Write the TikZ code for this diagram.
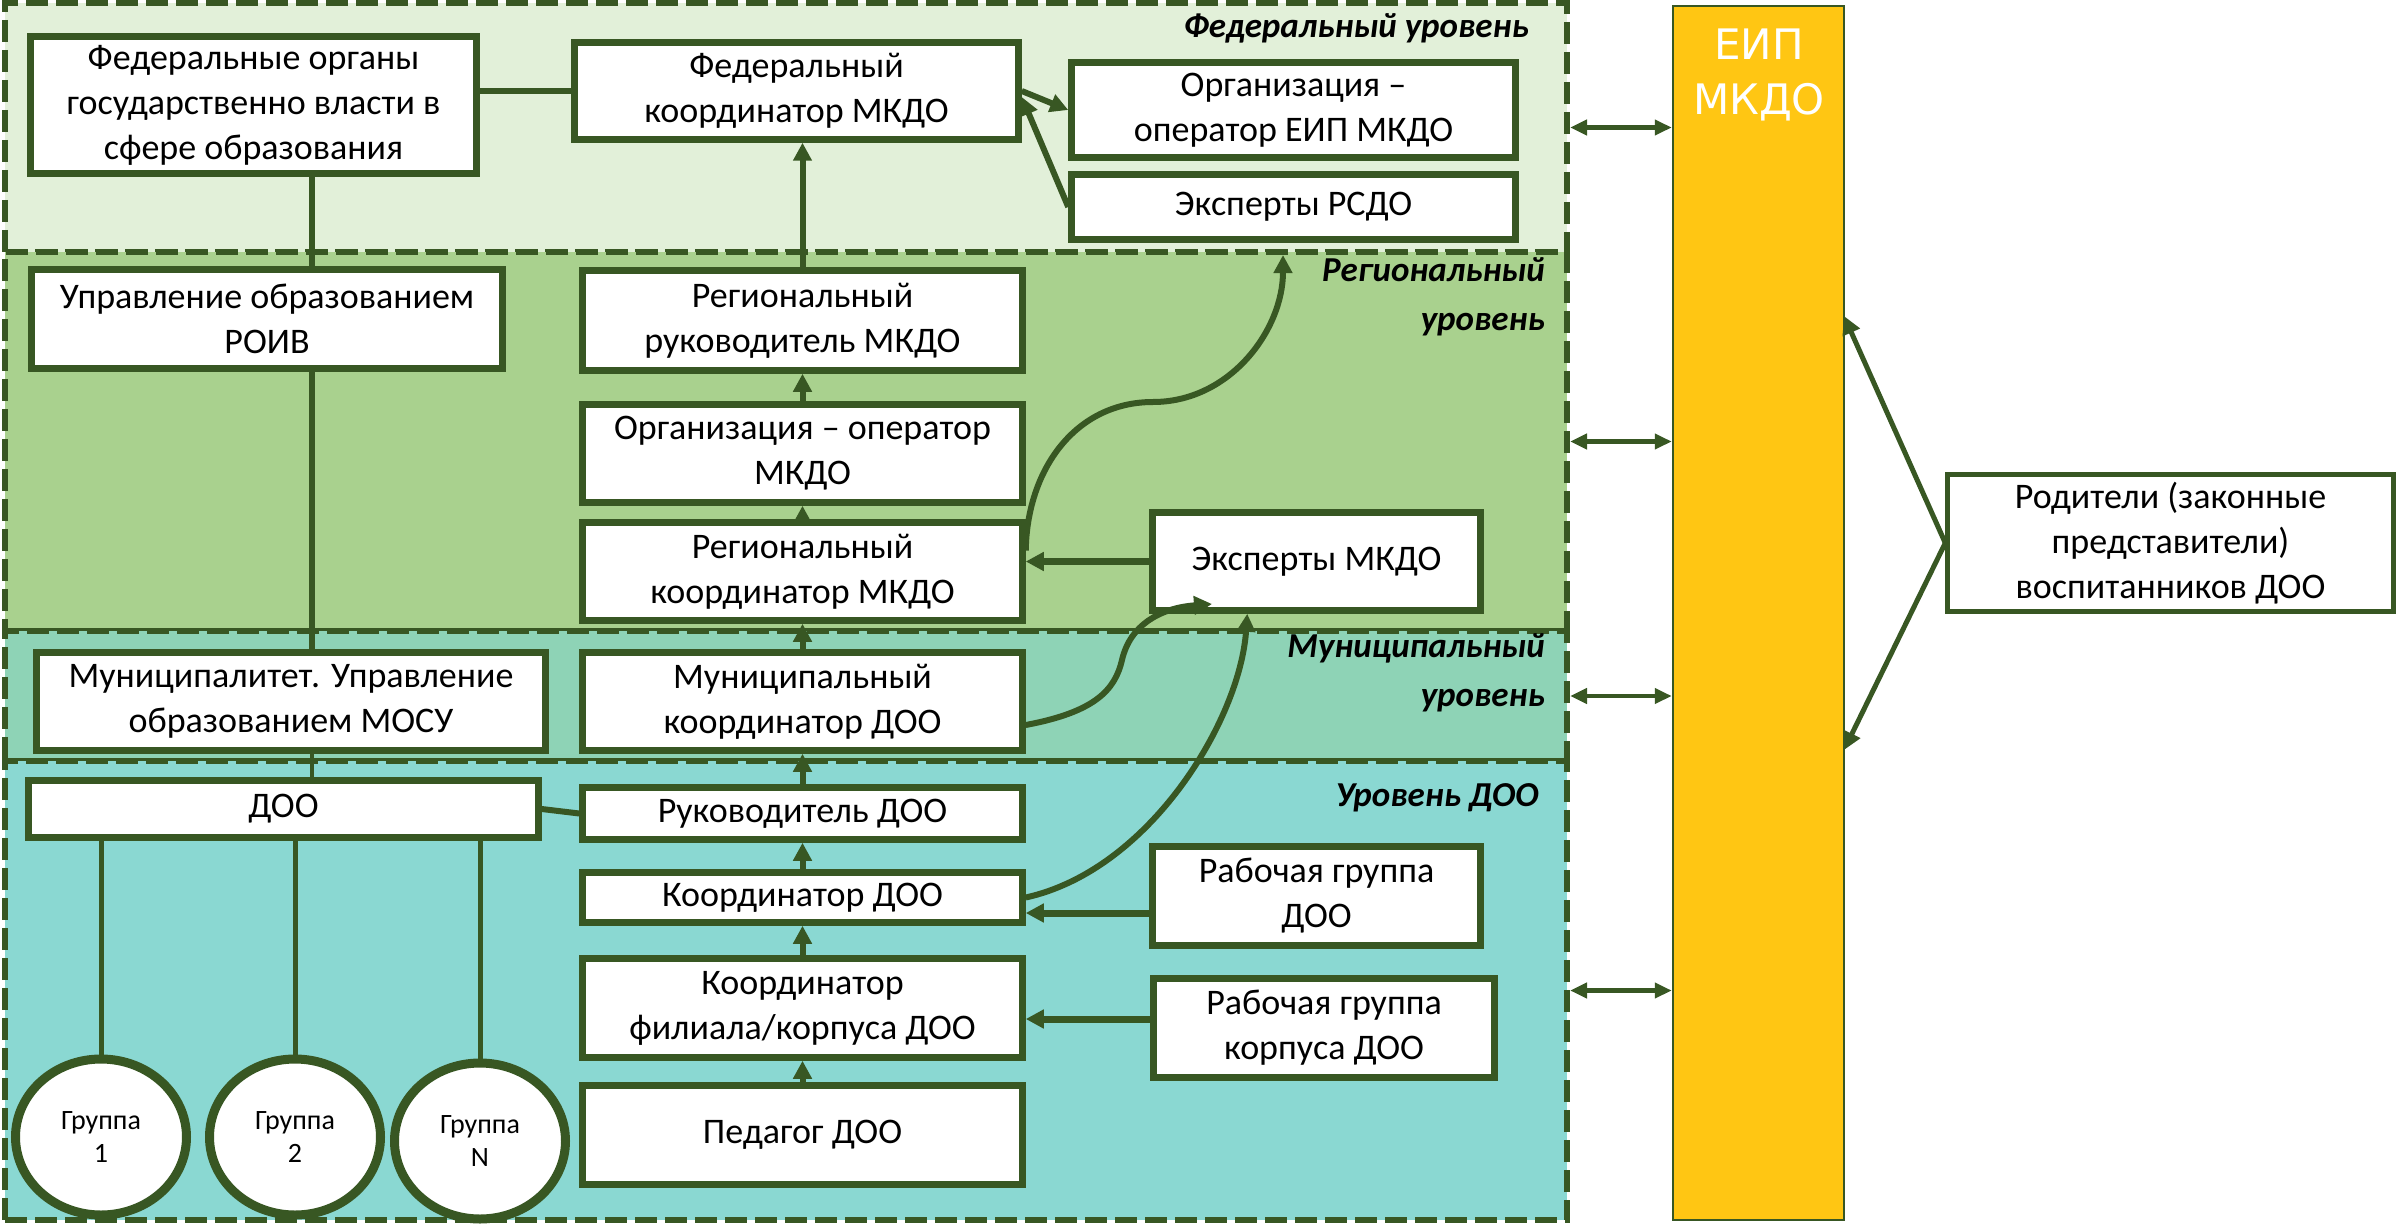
\documentclass[tikz,border=0pt]{standalone}
\usepackage{fontspec}
\setmainfont{Carlito}
\newfontfamily\eipfont{DejaVu Sans}
\usetikzlibrary{shapes.geometric,arrows.meta,calc}
\definecolor{dg}{HTML}{385723}
\definecolor{fedbg}{HTML}{E2F0D9}
\definecolor{regbg}{HTML}{A9D18E}
\definecolor{munbg}{HTML}{8ED3B6}
\definecolor{doobg}{HTML}{8AD8D2}
\definecolor{eipc}{HTML}{FFC613}
\begin{document}
\begin{tikzpicture}[x=1pt,y=-1pt,
 lvl/.style={draw=dg, line width=6pt, dash pattern=on 22pt off 8pt, rectangle, inner sep=0pt, minimum width=1562pt},
 ubox/.style={draw=dg, line width=6.5pt, fill=white, rectangle, inner sep=0pt, align=center, font=\fontsize{36}{45}\selectfont},
 grp/.style={draw=dg, line width=9pt, fill=white, ellipse, inner sep=0pt, minimum width=171pt, minimum height=156pt, align=center, font=\fontsize{28}{33}\selectfont},
 lab/.style={font=\fontsize{35}{49}\selectfont\bfseries\itshape, align=right, anchor=east, inner sep=0pt},
 con/.style={draw=dg, line width=6pt},
 arr/.style={con, -{Triangle[length=18pt,width=18pt]}},
 dbl/.style={draw=dg, line width=4.5pt, {Triangle[length=17pt,width=15pt]}-{Triangle[length=17pt,width=15pt]}},
]
\useasboundingbox (0,0) rectangle (2397,1225);

% levels
\node[lvl, fill=fedbg, minimum height=249pt] (fedL) at (786,127.5) {};
\node[lvl, fill=regbg, minimum height=379pt] (regL) at (786,441.5) {};
\node[lvl, fill=munbg, minimum height=130pt] (munL) at (786,696) {};
\node[lvl, fill=doobg, minimum height=459pt] (dooL) at (786,990.5) {};

\node[lab] (fedlab) at (1529,28) {Федеральный уровень};
\node[lab] (reglab) at (1545,297) {Региональный\\уровень};
\node[lab] (munlab) at (1545,673) {Муниципальный\\уровень};
\node[lab] (doolab) at (1539,798) {Уровень ДОО};

% boxes
\node[ubox, minimum width=446pt, minimum height=137pt] (fedorg) at (253.5,105) {Федеральные органы\\государственно власти в\\сфере образования};
\node[ubox, minimum width=444pt, minimum height=97pt] (fedcoord) at (796.5,91) {Федеральный\\координатор МКДО};
\node[ubox, minimum width=444pt, minimum height=95pt] (orgeip) at (1293.5,110) {Организация –\\оператор ЕИП МКДО};
\node[ubox, minimum width=444pt, minimum height=65pt] (rsdo) at (1293.5,207) {Эксперты РСДО};
\node[ubox, minimum width=471pt, minimum height=99pt] (roiv) at (267,319) {Управление образованием\\РОИВ};
\node[ubox, minimum width=440pt, minimum height=100pt] (regruk) at (802.5,320.5) {Региональный\\руководитель МКДО};
\node[ubox, minimum width=440pt, minimum height=98pt] (orgop) at (802.5,453.5) {Организация – оператор\\МКДО};
\node[ubox, minimum width=440pt, minimum height=98pt] (regcoord) at (802.5,571.5) {Региональный\\координатор МКДО};
\node[ubox, minimum width=328pt, minimum height=98pt] (expmkdo) at (1316.5,561.5) {Эксперты МКДО};
\node[ubox, minimum width=509pt, minimum height=98pt] (mun) at (291,701.5) {Муниципалитет. Управление\\образованием МОСУ};
\node[ubox, minimum width=440pt, minimum height=98pt] (muncoord) at (802.5,701.5) {Муниципальный\\координатор ДОО};
\node[ubox, minimum width=510pt, minimum height=57pt] (doo) at (283.5,809) {ДОО};
\node[ubox, minimum width=440pt, minimum height=52pt] (ruk) at (802.5,813.5) {Руководитель ДОО};
\node[ubox, minimum width=440pt, minimum height=50pt] (koord) at (802.5,897.5) {Координатор ДОО};
\node[ubox, minimum width=328pt, minimum height=99pt] (rgdoo) at (1316.5,896) {Рабочая группа\\ДОО};
\node[ubox, minimum width=440pt, minimum height=99pt] (kfil) at (802.5,1008) {Координатор\\филиала/корпуса ДОО};
\node[ubox, minimum width=341pt, minimum height=99pt] (rgk) at (1324,1028) {Рабочая группа\\корпуса ДОО};
\node[ubox, minimum width=440pt, minimum height=99pt] (ped) at (802.5,1135) {Педагог ДОО};

\node[grp] (g1) at (101,1137) {Группа\\1};
\node[grp] (g2) at (295,1137) {Группа\\2};
\node[grp] (gN) at (480,1141) {Группа\\N};

% EIP bar and parents
\node[draw=dg, line width=2.5pt, fill=eipc, rectangle, inner sep=0pt, minimum width=171pt, minimum height=1214pt] (eip) at (1758.5,613) {};
\node[font=\eipfont\fontsize{42}{55}\selectfont, text=white, align=center, inner sep=0pt] (eiptxt) at (1759,75) {ЕИП\\МКДО};
\node[ubox, line width=4.5pt, minimum width=446pt, minimum height=137pt] (par) at (2170.5,543) {Родители (законные\\представители)\\воспитанников ДОО};

% trunk lines
\coordinate (trunk) at (312,0);
\draw[con] (fedorg.south -| trunk) -- (roiv.north -| trunk);
\draw[con] (roiv.south -| trunk) -- (mun.north -| trunk);
\draw[con, line width=4.5pt] (mun.south -| trunk) -- (doo.north -| trunk);
\draw[con] (fedorg.east |- fedcoord.west) -- (fedcoord.west);
\draw[con] (doo.east) -- (ruk.west);
\draw[con, line width=5pt] (doo.south -| g1.north) -- (g1.north);
\draw[con, line width=5pt] (doo.south -| g2.north) -- (g2.north);
\draw[con, line width=5pt] (doo.south -| gN.north) -- (gN.north);

% upward chain
\draw[arr] (ped.north) -- (kfil.south);
\draw[arr] (kfil.north) -- (koord.south);
\draw[arr] (koord.north) -- (ruk.south);
\draw[arr] (ruk.north) -- (muncoord.south);
\draw[arr] (muncoord.north) -- (regcoord.south);
\draw[arr] (regcoord.north) -- (orgop.south);
\draw[arr] (orgop.north) -- (regruk.south);
\draw[arr] (regruk.north) -- (regruk.north |- fedcoord.south);

% federal arrows
\draw[arr] (fedcoord.east) -- (orgeip.west);
\draw[arr] (rsdo.west) -- ([yshift=-6pt]fedcoord.east);

% horizontal arrows
\draw[arr, line width=7pt] (expmkdo.west) -- (expmkdo.west -| regcoord.east);
\coordinate (a1) at ([yshift=-17pt]rgdoo.west);
\draw[arr, line width=7pt] (a1) -- (a1 -| koord.east);
\coordinate (a2) at ([yshift=9pt]rgk.west);
\draw[arr, line width=7pt] (a2) -- (a2 -| kfil.east);

% curves
\coordinate (c1s) at ([yshift=21pt]regcoord.east);
\coordinate (c1e) at (1283,255);
\draw[arr] (c1s) .. controls (1027,470) and (1075,402) .. (1153,402) .. controls (1230,402) and (1283,330) .. (c1e);
\coordinate (c2s) at ([yshift=-23.5pt]muncoord.east);
\coordinate (c2e) at (1212,604);
\draw[arr] (c2s) .. controls (1095,712) and (1115,690) .. (1122,660) .. controls (1130,625) and (1160,608) .. (c2e);
\coordinate (c3e) at ([xshift=98pt]expmkdo.south west);
\draw[arr] (koord.east) .. controls (1150,870) and (1240,720) .. (c3e);

% double arrows to EIP
\draw[dbl] (fedL.east) -- (fedL.east -| eip.west);
\draw[dbl] (regL.east) -- (regL.east -| eip.west);
\draw[dbl] (munL.east) -- (munL.east -| eip.west);
\draw[dbl] (dooL.east) -- (dooL.east -| eip.west);

% parents
\coordinate (p1) at (1844,316);
\coordinate (p2) at (1844,750);
\draw[arr, line width=5pt] (par.west) -- (p1);
\draw[arr, line width=5pt] (par.west) -- (p2);
\end{tikzpicture}
\end{document}
